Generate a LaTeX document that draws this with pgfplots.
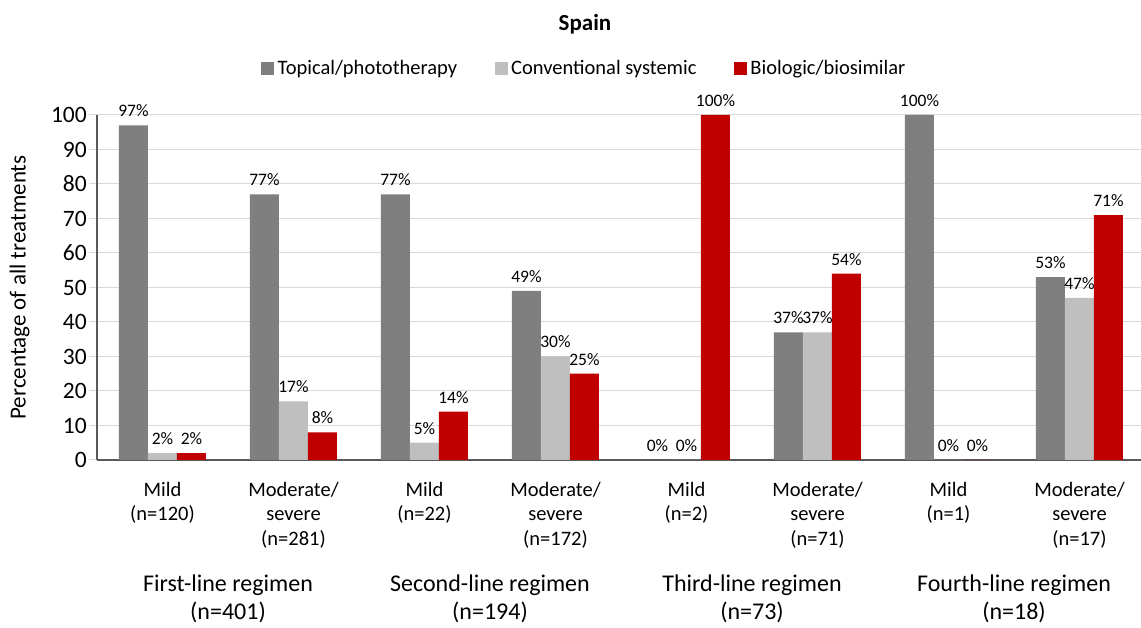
\documentclass[border=0pt]{standalone}
\usepackage{fontspec}
\setmainfont{Carlito}
\usepackage{pgfplots}
\pgfplotsset{compat=1.18}
\definecolor{cTop}{HTML}{7F7F7F}
\definecolor{cCon}{HTML}{BFBFBF}
\definecolor{cBio}{HTML}{C00000}
\definecolor{cGrid}{HTML}{D9D9D9}
\definecolor{cAxis}{HTML}{595959}
\begin{document}
\begin{tikzpicture}[x=1pt,y=1pt]
\path[use as bounding box] (0,0) rectangle (1141,628);
\node[font=\bfseries\fontsize{23}{27}\selectfont] at (585,604) {Spain};
\begin{axis}[
  at={(97pt,168pt)}, anchor=south west,
  scale only axis, width=1044pt, height=345pt,
  xmin=-0.5, xmax=7.47, ymin=0, ymax=100,
  ytick distance=10,
  xtick={0,1,2,3,4,5,6,7},
  xticklabels={{Mild\\(n=120)},{Moderate/\\severe\\(n=281)},{Mild\\(n=22)},{Moderate/\\severe\\(n=172)},{Mild\\(n=2)},{Moderate/\\severe\\(n=71)},{Mild\\(n=1)},{Moderate/\\severe\\(n=17)}},
  xticklabel style={font=\fontsize{20.5}{24.5}\selectfont, align=center, inner sep=0pt, yshift=-14pt},
  yticklabel style={font=\fontsize{23.5}{27}\selectfont, inner sep=0pt, xshift=-2pt},
  /pgf/number format/assume math mode=true,
  axis x line*=bottom, axis y line*=left,
  axis line style={cAxis, line width=1.5pt},
  xtick style={draw=none},
  ytick style={cGrid, line width=1pt},
  tick align=outside, major tick length=8pt,
  ymajorgrids, grid style={cGrid, line width=1pt},
  ylabel={Percentage of all treatments},
  ylabel style={font=\fontsize{23}{27}\selectfont, at={(axis description cs:-0.074,0.5)}, anchor=center},
  ybar, bar width=29pt,
  clip=false,
  nodes near coords={\pgfmathprintnumber{\pgfplotspointmeta}\%},
  nodes near coords style={font=\fontsize{17.5}{20}\selectfont, yshift=5pt, text=black},
  legend columns=3,
  legend style={at={(axis description cs:0.4674,1.136)}, anchor=center, draw=none, fill=none,
    font=\fontsize{20.5}{24}\selectfont, inner sep=0pt,
    nodes={inner sep=3.5pt},
    /tikz/every even column/.append style={column sep=34pt}},
  legend image code/.code={\fill[#1] (0pt,-6.5pt) rectangle (13pt,6.5pt);},
]
\addplot[fill=cTop, draw=none, bar shift=-29pt] coordinates {(0,97) (1,77) (2,77) (3,49) (4,0) (5,37) (6,100) (7,53)};
\addplot[fill=cCon, draw=none, bar shift=0pt] coordinates {(0,2) (1,17) (2,5) (3,30) (4,0) (5,37) (6,0) (7,47)};
\addplot[fill=cBio, draw=none, bar shift=29pt] coordinates {(0,2) (1,8) (2,14) (3,25) (4,100) (5,54) (6,0) (7,71)};
\legend{Topical/phototherapy, Conventional systemic, Biologic/biosimilar}
\node[font=\fontsize{24}{28}\selectfont, align=center, anchor=north, inner sep=0pt, yshift=-115pt] at (axis cs:0.5,0) {First-line regimen\\(n=401)};
\node[font=\fontsize{24}{28}\selectfont, align=center, anchor=north, inner sep=0pt, yshift=-115pt] at (axis cs:2.5,0) {Second-line regimen\\(n=194)};
\node[font=\fontsize{24}{28}\selectfont, align=center, anchor=north, inner sep=0pt, yshift=-115pt] at (axis cs:4.5,0) {Third-line regimen\\(n=73)};
\node[font=\fontsize{24}{28}\selectfont, align=center, anchor=north, inner sep=0pt, yshift=-115pt] at (axis cs:6.5,0) {Fourth-line regimen\\(n=18)};
\end{axis}
\end{tikzpicture}
\end{document}
